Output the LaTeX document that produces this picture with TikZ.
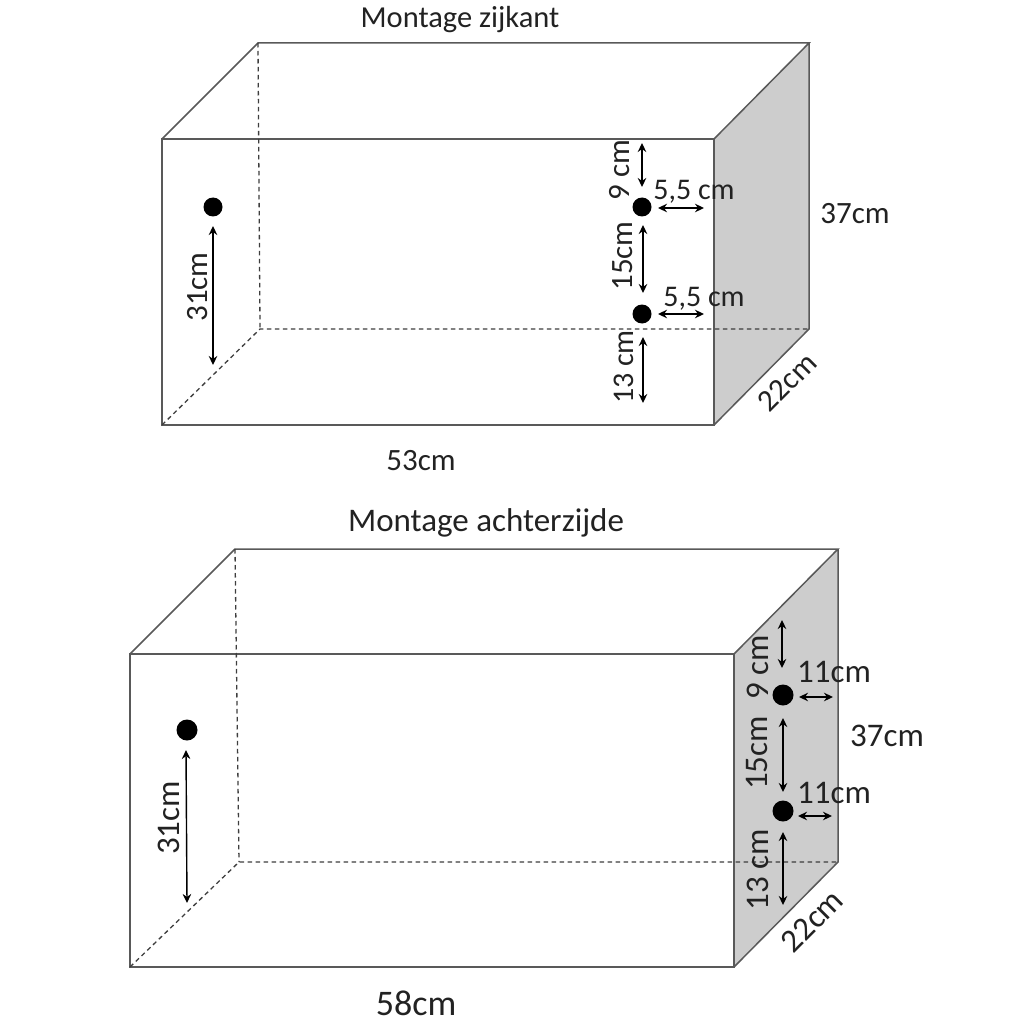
\documentclass[tikz,border=0pt]{standalone}
\usepackage{fontspec}
\setmainfont{Carlito}
\usetikzlibrary{arrows.meta}
\definecolor{boxline}{HTML}{595959}
\definecolor{sidegray}{HTML}{CDCDCD}
\definecolor{labeltext}{HTML}{222222}
\tikzset{
  edgeline/.style={draw=boxline, line width=1.5pt},
  hiddenline/.style={draw=boxline!70!black, line width=1.3pt, dash pattern=on 4.5pt off 3.5pt},
  dimarrow/.style={<->, >={Stealth[length=9pt, width=8.5pt]}, black, line width=1.4pt},
  lbl/.style={inner sep=0pt, text=labeltext, font=\fontsize{31}{31}\selectfont},
  lblB/.style={inner sep=0pt, text=labeltext, font=\fontsize{33}{33}\selectfont},
  dotA/.style={circle, fill=black, inner sep=0pt, minimum size=19pt},
  dotB/.style={circle, fill=black, inner sep=0pt, minimum size=21pt}
}
\begin{document}
\begin{tikzpicture}[x=1pt, y=-1pt]
\useasboundingbox (0,0) rectangle (1024,1024);
% upper box
\coordinate (afl) at (162,139);
\coordinate (afr) at (714,139);
\coordinate (agl) at (162,425);
\coordinate (agr) at (714,425);
\coordinate (abl) at (258,43);
\coordinate (abr) at (809,43);
\coordinate (acl) at (260,329);
\coordinate (acr) at (809,329);
\fill [sidegray] (afr) -- (abr) -- (acr) -- (agr) -- cycle;
\draw [edgeline] (afl) -- (afr) -- (agr) -- (agl) -- cycle;
\draw [edgeline] (afl) -- (abl) -- (abr) -- (afr) (abr) -- (acr) -- (agr);
\draw [hiddenline] (abl) -- (acl) (agl) -- (acl) -- (acr);
\node (adot1) at (213,207) [dotA] {};
\node (adot2) at (642,207) [dotA] {};
\node (adot3) at (642,314) [dotA] {};
\coordinate (a31a) at (213,226);
\coordinate (a31b) at (213,365);
\coordinate (a9a) at (642,143);
\coordinate (a9b) at (642,187);
\coordinate (a15a) at (643,225);
\coordinate (a15b) at (643,293);
\coordinate (a13a) at (643,337);
\coordinate (a13b) at (643,403);
\coordinate (a55a) at (658,208);
\coordinate (a55b) at (704,208);
\coordinate (a55c) at (658,314);
\coordinate (a55d) at (704,314);
\path [every edge/.append style={dimarrow}] (a31a) edge (a31b) (a9a) edge (a9b) (a15a) edge (a15b) (a13a) edge (a13b) (a55a) edge (a55b) (a55c) edge (a55d);
\node (atitle) at (460,20) [lbl, font=\fontsize{30.5}{31}\selectfont] {Montage zijkant};
\node (aheight) at (855,214) [lbl] {37cm};
\node (awidth) at (421,461) [lbl] {53cm};
\node (adepth) at (787,382) [lbl, rotate=45] {22cm};
\node (a31) at (198,287) [lbl, rotate=90] {31cm};
\node (a9) at (620,170) [lbl, rotate=90] {9 cm};
\node (a15) at (623,256) [lbl, rotate=90] {15cm};
\node (a13) at (624,367) [lbl, font=\fontsize{30}{31}\selectfont, rotate=90] {13 cm};
\node (a55top) at (694,192) [lbl, font=\fontsize{30}{31}\selectfont] {5,5 cm};
\node (a55bot) at (704,299) [lbl, font=\fontsize{30}{31}\selectfont] {5,5 cm};
% lower box
\coordinate (bfl) at (130,654);
\coordinate (bfr) at (734,654);
\coordinate (bgl) at (130,967);
\coordinate (bgr) at (734,967);
\coordinate (bbl) at (235,549);
\coordinate (bbr) at (838,549);
\coordinate (bcl) at (239,862);
\coordinate (bcr) at (838,862);
\fill [sidegray] (bfr) -- (bbr) -- (bcr) -- (bgr) -- cycle;
\draw [edgeline] (bfl) -- (bfr) -- (bgr) -- (bgl) -- cycle;
\draw [edgeline] (bfl) -- (bbl) -- (bbr) -- (bfr) (bbr) -- (bcr) -- (bgr);
\draw [hiddenline] (bbl) -- (bcl) (bgl) -- (bcl) -- (bcr);
\node (bdot1) at (187,730) [dotB] {};
\node (bdot2) at (783,695) [dotB] {};
\node (bdot3) at (783,811) [dotB] {};
\coordinate (b31a) at (186,750);
\coordinate (b31b) at (187,903);
\coordinate (b9a) at (782,620);
\coordinate (b9b) at (782,668);
\coordinate (b15a) at (783,718);
\coordinate (b15b) at (783,792);
\coordinate (b13a) at (783,832);
\coordinate (b13b) at (783,905);
\coordinate (b11a) at (799,697);
\coordinate (b11b) at (833,697);
\coordinate (b11c) at (798,816);
\coordinate (b11d) at (832,816);
\path [every edge/.append style={dimarrow}] (b31a) edge (b31b) (b9a) edge (b9b) (b15a) edge (b15b) (b13a) edge (b13b) (b11a) edge (b11b) (b11c) edge (b11d);
\node (btitle) at (486,523) [lblB] {Montage achterzijde};
\node (bheight) at (887,736) [lblB] {37cm};
\node (bwidth) at (416,1003) [lblB, font=\fontsize{36}{36}\selectfont] {58cm};
\node (bdepth) at (812,921) [lblB, rotate=45] {22cm};
\node (b31) at (169,818) [lblB, rotate=90] {31cm};
\node (b9) at (758,667) [lblB, rotate=90] {9 cm};
\node (b15) at (757,753) [lblB, rotate=90] {15cm};
\node (b13) at (758,870) [lblB, rotate=90] {13 cm};
\node (b11top) at (834,672) [lblB] {11cm};
\node (b11bot) at (834,793) [lblB] {11cm};
\end{tikzpicture}
\end{document}
